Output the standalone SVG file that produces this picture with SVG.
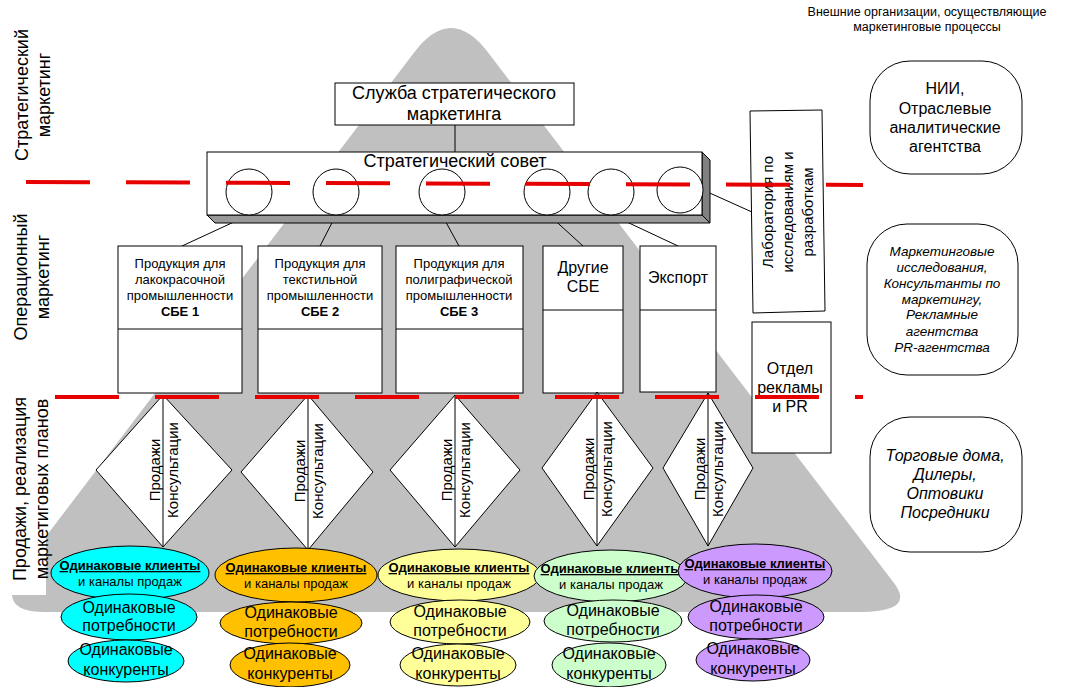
<svg xmlns="http://www.w3.org/2000/svg" width="1077" height="687" viewBox="0 0 1077 687">
<style>
text{font-family:"Liberation Sans",Arial,sans-serif;fill:#000}
.box{fill:#fff;stroke:#000;stroke-width:1}
.ln{stroke:#000;stroke-width:1;fill:none}
.red{stroke:#e60000;stroke-width:4;stroke-dasharray:64 36;fill:none}
.side{font-size:18px;text-anchor:middle}
.t18{font-size:18px;text-anchor:middle}
.t13{font-size:13px;text-anchor:middle}
.t15{font-size:15px;text-anchor:middle}
.t16{font-size:16px;text-anchor:middle}
.it13{font-size:13.5px;font-style:italic;text-anchor:middle}
.it16{font-size:16px;font-style:italic;text-anchor:middle}
.hdr{font-size:12.5px;text-anchor:middle}
.dtx{font-size:15px;text-anchor:middle}
.e1{font-size:13px;text-anchor:middle}
.b{font-weight:bold}
.u{font-weight:bold;text-decoration:underline}
.el{stroke:#000;stroke-width:1}
.cy{fill:#00ffff}.or{fill:#ffc000}.ye{fill:#ffff99}.gr{fill:#ccffcc}.pu{fill:#cc99ff}
</style>
<rect x="0" y="0" width="1077" height="687" fill="#fff"/>
<!-- background pyramid -->
<path d="M487.7,52 Q451,4 414.5,52 L28,560 Q-11,612 45,612 L860,612 Q916,612 894,583 Z" fill="#c0c0c0"/>
<rect x="0" y="385" width="46" height="210" fill="#fff"/>

<!-- side labels -->
<g id="label-strategic">
<text class="side" transform="translate(28,95) rotate(-90)">Стратегический<tspan x="0" dy="22">маркетинг</tspan></text>
</g>
<g id="label-operational">
<text class="side" transform="translate(27,277) rotate(-90)">Операционный<tspan x="0" dy="22">маркетинг</tspan></text>
</g>
<g id="label-sales">
<text class="side" transform="translate(26,489) rotate(-90)">Продажи, реализация<tspan x="0" dy="22">маркетиговых планов</tspan></text>
</g>
<g id="header">
<text class="hdr" x="927" y="16">Внешние организации, осуществляющие</text>
<text class="hdr" x="927" y="31">маркетинговые процессы</text>
</g>

<!-- connectors -->
<g id="connectors">
<line class="ln" x1="455" y1="125" x2="455" y2="152"/>
<line class="ln" x1="249" y1="215" x2="182" y2="246"/>
<line class="ln" x1="336" y1="215" x2="320" y2="246"/>
<line class="ln" x1="442" y1="215" x2="459" y2="246"/>
<line class="ln" x1="549" y1="215" x2="583" y2="246"/>
<line class="ln" x1="612" y1="215" x2="678" y2="246"/>
<line class="ln" x1="703" y1="190" x2="752" y2="212"/>
</g>

<g id="service">
<rect class="box" x="335" y="83" width="239" height="42"/>
<text class="t18" x="454" y="99">Служба стратегического</text>
<text class="t18" x="454" y="120">маркетинга</text>
</g>

<g id="council">
<polygon points="702,152 710,160 710,223 702,215" fill="#808080" stroke="#000" stroke-width="1"/>
<polygon points="207,215 702,215 710,223 215,223" fill="#999" stroke="#000" stroke-width="1"/>
<rect class="box" x="207" y="152" width="495" height="63"/>
<text class="t18" x="455" y="167">Стратегический совет</text>
<circle class="box" cx="249" cy="192" r="23"/>
<circle class="box" cx="336" cy="192" r="23"/>
<circle class="box" cx="442" cy="192" r="23"/>
<circle class="box" cx="547" cy="192" r="23"/>
<circle class="box" cx="611" cy="192" r="23"/>
<circle class="box" cx="680" cy="190" r="23"/>
</g>

<g id="sbe1">
<rect class="box" x="118" y="246" width="124" height="147"/>
<line class="ln" x1="118" y1="329" x2="242" y2="329"/>
<text class="t13" x="180" y="268">Продукция для</text>
<text class="t13" x="180" y="284">лакокрасочной</text>
<text class="t13" x="180" y="300">промышленности</text>
<text class="t13 b" x="180" y="316">СБЕ 1</text>
</g>
<g id="sbe2">
<rect class="box" x="258" y="246" width="124" height="147"/>
<line class="ln" x1="258" y1="329" x2="382" y2="329"/>
<text class="t13" x="320" y="268">Продукция для</text>
<text class="t13" x="320" y="284">текстильной</text>
<text class="t13" x="320" y="300">промышленности</text>
<text class="t13 b" x="320" y="316">СБЕ 2</text>
</g>
<g id="sbe3">
<rect class="box" x="396" y="246" width="127" height="147"/>
<line class="ln" x1="396" y1="329" x2="523" y2="329"/>
<text class="t13" x="459" y="268">Продукция для</text>
<text class="t13" x="459" y="284">полиграфической</text>
<text class="t13" x="459" y="300">промышленности</text>
<text class="t13 b" x="459" y="316">СБЕ 3</text>
</g>
<g id="other-sbe">
<rect class="box" x="543" y="246" width="80" height="147"/>
<line class="ln" x1="543" y1="310" x2="623" y2="310"/>
<text class="t16" x="583" y="273">Другие</text>
<text class="t16" x="583" y="292">СБЕ</text>
</g>
<g id="export">
<rect class="box" x="640" y="246" width="76" height="146"/>
<line class="ln" x1="640" y1="310" x2="716" y2="310"/>
<text class="t16" x="678" y="283">Экспорт</text>
</g>

<g id="lab">
<polygon class="box" points="750,111 822,110 825,311 753,313"/>
<text class="t15" transform="translate(773,212) rotate(-90)">Лаборатория по<tspan x="0" dy="20">исследованиям и</tspan><tspan x="0" dy="20">разработкам</tspan></text>
</g>
<g id="ad-pr">
<rect class="box" x="752" y="322" width="79" height="131"/>
<text class="t16" x="790" y="373.5">Отдел</text>
<text class="t16" x="790" y="392.5">рекламы</text>
<text class="t16" x="790" y="411.5">и PR</text>
</g>

<g id="ext-research">
<rect class="box" x="870" y="61" width="152" height="113" rx="40" ry="40"/>
<text class="t16" x="945" y="94">НИИ,</text>
<text class="t16" x="945" y="113.5">Отраслевые</text>
<text class="t16" x="945" y="133">аналитические</text>
<text class="t16" x="945" y="152">агентства</text>
</g>
<g id="ext-marketing">
<rect class="box" x="867" y="224" width="151" height="151" rx="40" ry="40"/>
<text class="it13" x="942" y="256">Маркетинговые</text>
<text class="it13" x="942" y="272">исследования,</text>
<text class="it13" x="942" y="288">Консультанты по</text>
<text class="it13" x="942" y="304">маркетингу,</text>
<text class="it13" x="942" y="319">Рекламные</text>
<text class="it13" x="942" y="336">агентства</text>
<text class="it13" x="942" y="352">PR-агентства</text>
</g>
<g id="ext-trade">
<rect class="box" x="870" y="417" width="152" height="135" rx="40" ry="40"/>
<text class="it16" x="945" y="461">Торговые дома,</text>
<text class="it16" x="945" y="480">Дилеры,</text>
<text class="it16" x="945" y="499">Оптовики</text>
<text class="it16" x="945" y="518">Посредники</text>
</g>

<g id="diamond1">
<polygon class="box" points="163,395 232,470 163,547 96,470"/>
<line class="ln" x1="163" y1="395" x2="163" y2="547"/>
<text class="dtx" transform="translate(160,470) rotate(-90)">Продажи</text>
<text class="dtx" transform="translate(178,470) rotate(-90)">Консультации</text>
</g>
<g id="diamond2">
<polygon class="box" points="308,395 373,472 308,550 241,472"/>
<line class="ln" x1="308" y1="395" x2="308" y2="550"/>
<text class="dtx" transform="translate(305,471) rotate(-90)">Продажи</text>
<text class="dtx" transform="translate(323,471) rotate(-90)">Консультации</text>
</g>
<g id="diamond3">
<polygon class="box" points="455,395 520,470 455,547 390,470"/>
<line class="ln" x1="455" y1="395" x2="455" y2="547"/>
<text class="dtx" transform="translate(452,470) rotate(-90)">Продажи</text>
<text class="dtx" transform="translate(470,470) rotate(-90)">Консультации</text>
</g>
<g id="diamond4">
<polygon class="box" points="597,392 653,468 597,546 542,468"/>
<line class="ln" x1="597" y1="392" x2="597" y2="546"/>
<text class="dtx" transform="translate(594,469) rotate(-90)">Продажи</text>
<text class="dtx" transform="translate(612,469) rotate(-90)">Консультации</text>
</g>
<g id="diamond5">
<polygon class="box" points="708,393 753,468 708,546 663,468"/>
<line class="ln" x1="708" y1="393" x2="708" y2="546"/>
<text class="dtx" transform="translate(705,469) rotate(-90)">Продажи</text>
<text class="dtx" transform="translate(723,469) rotate(-90)">Консультации</text>
</g>

<g id="seg1-cyan">
<ellipse class="el cy" cx="130" cy="573" rx="79" ry="27"/>
<ellipse class="el cy" cx="129" cy="617" rx="68" ry="23"/>
<ellipse class="el cy" cx="126" cy="661" rx="58" ry="21"/>
<text class="e1 u" x="130" y="570">Одинаковые клиенты</text>
<text class="e1" x="130" y="586">и каналы продаж</text>
<text class="t16" x="129" y="613">Одинаковые</text>
<text class="t16" x="129" y="631">потребности</text>
<text class="t16" x="126" y="655">Одинаковые</text>
<text class="t16" x="126" y="675">конкуренты</text>
</g>
<g id="seg2-orange">
<ellipse class="el or" cx="296" cy="575" rx="81" ry="27"/>
<ellipse class="el or" cx="291" cy="623" rx="71" ry="21"/>
<ellipse class="el or" cx="290" cy="665" rx="60" ry="22"/>
<text class="e1 u" x="296" y="572">Одинаковые клиенты</text>
<text class="e1" x="296" y="588">и каналы продаж</text>
<text class="t16" x="291" y="618">Одинаковые</text>
<text class="t16" x="291" y="637">потребности</text>
<text class="t16" x="290" y="659">Одинаковые</text>
<text class="t16" x="290" y="679">конкуренты</text>
</g>
<g id="seg3-yellow">
<ellipse class="el ye" cx="459" cy="575" rx="81" ry="26"/>
<ellipse class="el ye" cx="460" cy="622" rx="70" ry="22"/>
<ellipse class="el ye" cx="458" cy="665" rx="58" ry="21"/>
<text class="e1 u" x="459" y="572">Одинаковые клиенты</text>
<text class="e1" x="459" y="588">и каналы продаж</text>
<text class="t16" x="460" y="617">Одинаковые</text>
<text class="t16" x="460" y="636">потребности</text>
<text class="t16" x="458" y="659">Одинаковые</text>
<text class="t16" x="458" y="679">конкуренты</text>
</g>
<g id="seg4-green">
<ellipse class="el gr" cx="611" cy="576" rx="77" ry="26"/>
<ellipse class="el gr" cx="613" cy="621" rx="69" ry="21"/>
<ellipse class="el gr" cx="609" cy="665" rx="57" ry="22"/>
<text class="e1 u" x="611" y="573">Одинаковые клиенты</text>
<text class="e1" x="611" y="589">и каналы продаж</text>
<text class="t16" x="613" y="616">Одинаковые</text>
<text class="t16" x="613" y="635">потребности</text>
<text class="t16" x="609" y="659">Одинаковые</text>
<text class="t16" x="609" y="679">конкуренты</text>
</g>
<g id="seg5-purple">
<ellipse class="el pu" cx="755" cy="571" rx="77" ry="27"/>
<ellipse class="el pu" cx="756" cy="617" rx="68" ry="22"/>
<ellipse class="el pu" cx="753" cy="660" rx="57" ry="21"/>
<text class="e1 u" x="755" y="568">Одинаковые клиенты</text>
<text class="e1" x="755" y="584">и каналы продаж</text>
<text class="t16" x="756" y="612">Одинаковые</text>
<text class="t16" x="756" y="631">потребности</text>
<text class="t16" x="753" y="654">Одинаковые</text>
<text class="t16" x="753" y="674">конкуренты</text>
</g>

<g id="level-dividers">
<line class="red" x1="26" y1="182" x2="863" y2="185"/>
<line class="red" x1="55" y1="397" x2="863" y2="397"/>
</g>
</svg>
